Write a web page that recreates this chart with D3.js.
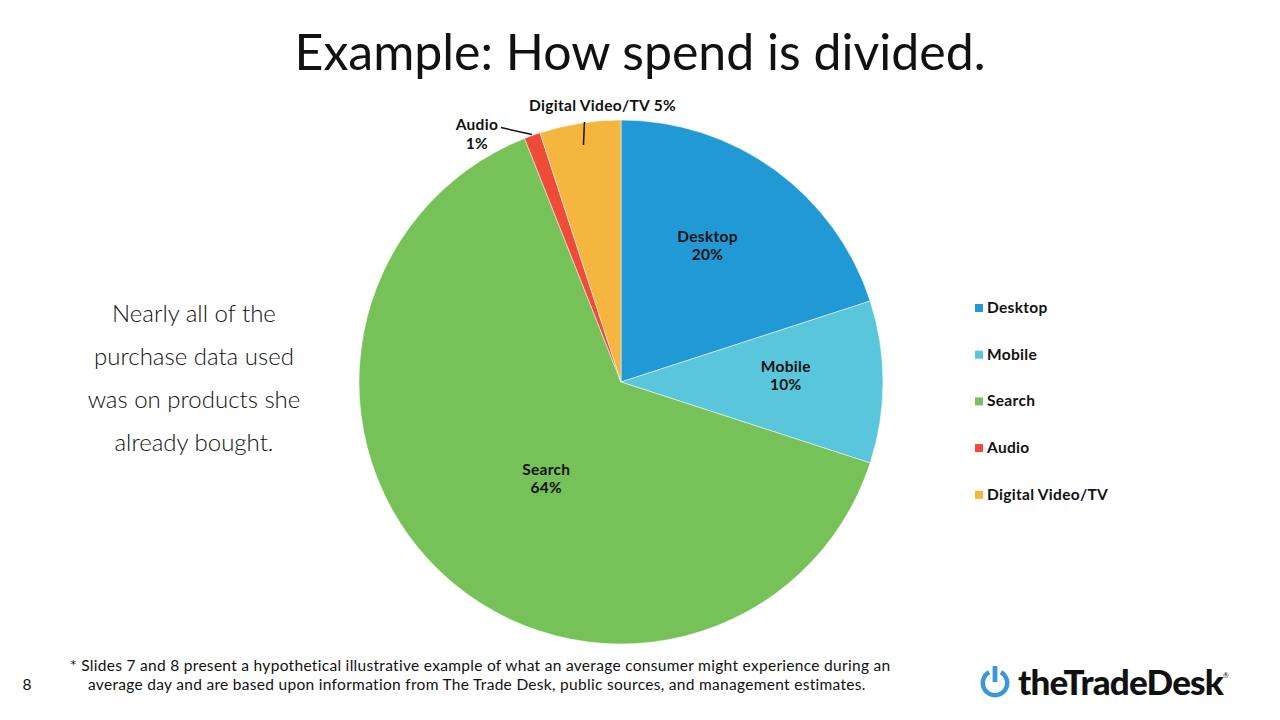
<!DOCTYPE html>
<html><head><meta charset="utf-8">
<script src="https://cdn.jsdelivr.net/npm/d3@7"></script>
<style>
html,body{margin:0;padding:0;background:#fff;}
svg{display:block;font-family:Lato,"Open Sans",sans-serif;}
</style></head>
<body>
<svg id="chart" width="1280" height="720"></svg>
<script>
const categories = ["Desktop","Mobile","Search","Audio","Digital Video/TV"];
const values = [20,10,64,1,5];
const colors = ["#2199d5","#5ac6dc","#77c159","#ee4b39","#f5b63f"];
const leftText = ["Nearly all of the","purchase data used","was on products she","already bought."];
const footnote = ["* Slides 7 and 8 present a hypothetical illustrative example of what an average consumer might experience during an",
                  "average day and are based upon information from The Trade Desk, public sources, and management estimates."];

const svg = d3.select("#chart");
const cx = 621, cy = 382, R = 262;

svg.append("text").attr("x",640).attr("y",70).attr("text-anchor","middle")
  .attr("font-size",50).attr("fill","#111").text("Example: How spend is divided.");

const pie = d3.pie().sort(null).value(d=>d)(values);
const arc = d3.arc().innerRadius(0).outerRadius(R);
const g = svg.append("g").attr("transform",`translate(${cx},${cy})`);
g.selectAll("path").data(pie).join("path")
  .attr("d",arc).attr("fill",(d,i)=>colors[i]).attr("stroke","#fff").attr("stroke-width",0.5);

const lblSize = 15.5, lblSpace = 0.3;
// inside labels
const inR = [162,165,122];
const angOff = [-0.065,-0.045,-0.095];
pie.slice(0,3).forEach((d,i)=>{
  const a = (d.startAngle+d.endAngle)/2 + angOff[i];
  const x = Math.sin(a)*inR[i], y = -Math.cos(a)*inR[i];
  const t = g.append("text").attr("text-anchor","middle").attr("font-size",lblSize)
    .attr("letter-spacing",lblSpace).attr("font-weight","bold").attr("fill","#111");
  t.append("tspan").attr("x",x).attr("y",y-3).text(categories[i]);
  t.append("tspan").attr("x",x).attr("y",y+15).text(values[i]+"%");
});

// outside labels
{
  const d = pie[4]; const a=(d.startAngle+d.endAngle)/2;
  const sx = Math.sin(a)*(R-22), sy=-Math.cos(a)*(R-22);
  g.append("line").attr("x1",sx).attr("y1",sy).attr("x2",sx+1).attr("y2",-R+2)
    .attr("stroke","#111").attr("stroke-width",1.5);
  g.append("text").attr("x",sx+19).attr("y",-R-9).attr("text-anchor","middle")
    .attr("font-size",lblSize).attr("letter-spacing",lblSpace).attr("font-weight","bold").attr("fill","#111")
    .text(categories[4]+" "+values[4]+"%");
}
{
  const d = pie[3]; const a=(d.startAngle+d.endAngle)/2;
  const sx = Math.sin(a)*(R+1), sy=-Math.cos(a)*(R+1);
  g.append("line").attr("x1",sx).attr("y1",sy).attr("x2",sx-31).attr("y2",sy-7)
    .attr("stroke","#111").attr("stroke-width",1.5);
  const t = g.append("text").attr("text-anchor","middle").attr("font-size",lblSize)
    .attr("letter-spacing",lblSpace).attr("font-weight","bold").attr("fill","#111");
  t.append("tspan").attr("x",sx-55).attr("y",sy-5).text(categories[3]);
  t.append("tspan").attr("x",sx-55).attr("y",sy+14).text(values[3]+"%");
}

// legend
const leg = svg.append("g");
categories.forEach((c,i)=>{
  const y = 308 + i*46.7;
  leg.append("rect").attr("x",975).attr("y",y-4).attr("width",8).attr("height",8).attr("fill",colors[i]);
  leg.append("text").attr("x",987).attr("y",y+5).attr("font-size",lblSize).attr("letter-spacing",lblSpace)
    .attr("font-weight","bold").attr("fill","#111").text(c);
});

// left text
leftText.forEach((s,i)=>{
  svg.append("text").attr("x",194).attr("y",322+i*43).attr("text-anchor","middle")
    .attr("font-size",24).attr("font-weight",300).attr("fill","#111").text(s);
});

// footnote
svg.append("text").attr("x",70).attr("y",671).attr("font-size",15.5).attr("letter-spacing",0.3).attr("fill","#111").text(footnote[0]);
svg.append("text").attr("x",88).attr("y",690).attr("font-size",15.5).attr("letter-spacing",0.3).attr("fill","#111").text(footnote[1]);
svg.append("text").attr("x",27).attr("y",690).attr("text-anchor","middle").attr("font-size",15.5).attr("fill","#111").text("8");

// logo
const lg = svg.append("g").attr("transform","translate(995,683)");
const ring = d3.arc().innerRadius(10).outerRadius(14.5).startAngle(0.5).endAngle(2*Math.PI-0.5);
lg.append("path").attr("d",ring()).attr("fill","#3b97d8");
lg.append("rect").attr("x",-2.4).attr("y",-17).attr("width",4.8).attr("height",16).attr("fill","#3b97d8");
svg.append("text").attr("x",1018).attr("y",695).attr("font-size",35).attr("font-weight",900)
  .attr("letter-spacing",-0.8).attr("fill","#111").text("theTradeDesk");
svg.append("text").attr("x",1223).attr("y",678).attr("font-size",7).attr("fill","#111").text("®");
</script>
</body></html>
